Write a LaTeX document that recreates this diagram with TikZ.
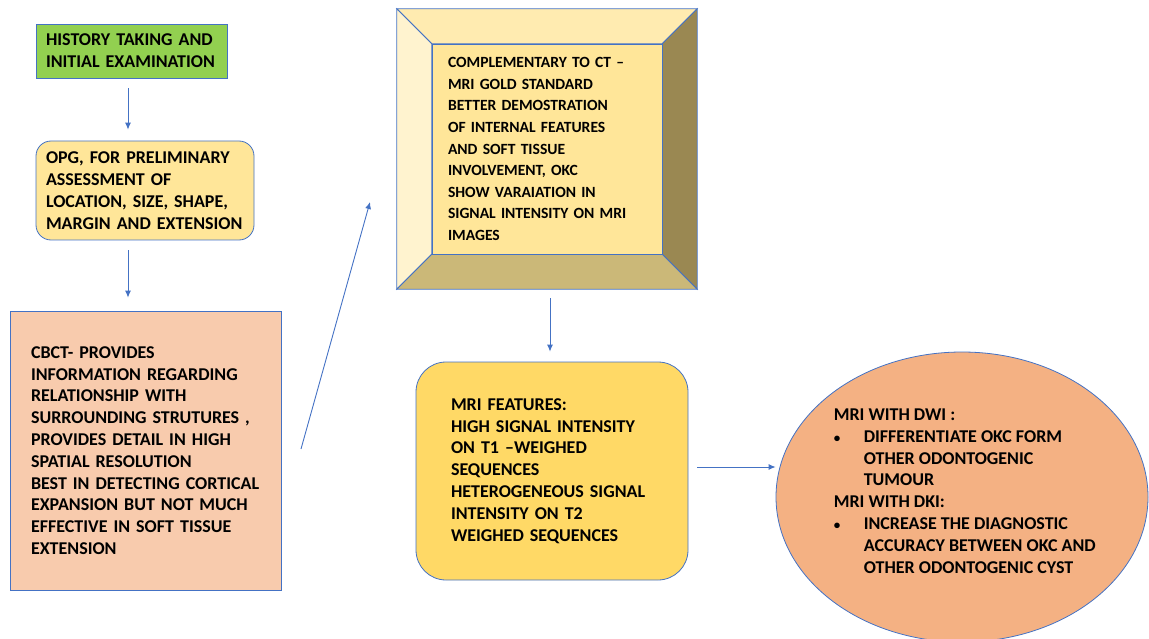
\documentclass[tikz,border=0pt]{standalone}
\usepackage{fontspec}
\setmainfont{Carlito}
\usepackage{tikz}
\usetikzlibrary{shapes,arrows,arrows.meta,calc}
\definecolor{lineblue}{HTML}{4472C4}
\definecolor{histgreen}{HTML}{92D050}
\definecolor{opgyellow}{HTML}{FFE699}
\definecolor{cbctpeach}{HTML}{F8CBAD}
\definecolor{mriyellow}{HTML}{FFD966}
\definecolor{dwiorange}{HTML}{F4B183}
\definecolor{bevtop}{HTML}{FFEBB0}
\definecolor{bevleft}{HTML}{FFF3CF}
\definecolor{bevright}{HTML}{9A8852}
\definecolor{bevbottom}{HTML}{CBB878}

\begin{document}
\begin{tikzpicture}[>={Latex[length=7pt,width=6pt]}, x=1pt, y=-1pt,
	stepbox/.style={draw=lineblue, line width=.8pt, align=left, inner ysep=0pt,
		font=\bfseries\fontsize{18}{21.8}\selectfont},
	flow/.style={->, draw=lineblue, line width=.9pt}]
		\useasboundingbox (0,0) rectangle (1149,639);
		\node (hist)  [stepbox, fill=histgreen, text width=171pt, inner xsep=10pt, minimum height=54pt] at (131.5,51) {HISTORY TAKING AND\\INITIAL EXAMINATION};
		\node (opg)   [stepbox, fill=opgyellow, rounded corners=15pt, text width=198pt, inner xsep=10pt, minimum height=99pt] at (145,190.5) {OPG, FOR PRELIMINARY\\ASSESSMENT OF\\LOCATION, SIZE, SHAPE,\\MARGIN AND EXTENSION};
		\node (cbct)  [stepbox, fill=cbctpeach, text width=229pt, inner xsep=21pt, minimum height=279pt] at (145.5,450.5) {CBCT- PROVIDES\\INFORMATION REGARDING\\RELATIONSHIP WITH\\SURROUNDING STRUTURES ,\\PROVIDES DETAIL IN HIGH\\SPATIAL RESOLUTION\\BEST IN DETECTING CORTICAL\\EXPANSION BUT NOT MUCH\\EFFECTIVE IN SOFT TISSUE\\EXTENSION};
		% bevelled frame round the MRI box
		\node (frame) [minimum width=300pt, minimum height=280pt, inner sep=0pt] at (547,149) {};
		\filldraw [draw=lineblue, line width=.8pt, fill=bevtop] (frame.north west) -- (frame.north east) -- ($(frame.north east)+(-35,35)$) -- ($(frame.north west)+(35,35)$) -- cycle;
		\filldraw [draw=lineblue, line width=.8pt, fill=bevleft] (frame.north west) -- ($(frame.north west)+(35,35)$) -- ($(frame.south west)+(35,-35)$) -- (frame.south west) -- cycle;
		\filldraw [draw=lineblue, line width=.8pt, fill=bevright] (frame.north east) -- (frame.south east) -- ($(frame.south east)+(-35,-35)$) -- ($(frame.north east)+(-35,35)$) -- cycle;
		\filldraw [draw=lineblue, line width=.8pt, fill=bevbottom] (frame.south west) -- (frame.south east) -- ($(frame.south east)+(-35,-35)$) -- ($(frame.south west)+(35,-35)$) -- cycle;
		\node (gold)  [stepbox, fill=opgyellow, text width=198pt, inner xsep=16pt, minimum height=210pt, font=\bfseries\fontsize{15.6}{21.6}\selectfont] at (frame.center) {COMPLEMENTARY TO CT --\\MRI GOLD STANDARD\\BETTER DEMOSTRATION\\OF INTERNAL FEATURES\\AND SOFT TISSUE\\INVOLVEMENT, OKC\\SHOW VARAIATION IN\\SIGNAL INTENSITY ON MRI\\IMAGES};
		\node (mrif)  [stepbox, fill=mriyellow, rounded corners=30pt, text width=202pt, inner xsep=35pt, minimum height=218pt] at (552,471) {MRI FEATURES:\\HIGH SIGNAL INTENSITY\\ON T1 --WEIGHED\\SEQUENCES\\HETEROGENEOUS SIGNAL\\INTENSITY ON T2\\WEIGHED SEQUENCES};
		\node (dwi)   [draw=lineblue, line width=.8pt, fill=dwiorange, ellipse, minimum width=372pt, minimum height=290pt, inner sep=0pt] at (962,497) {};
		\node (dwitext) [align=left, anchor=west, inner sep=0pt, font=\bfseries\fontsize{18}{21.8}\selectfont] at ($(dwi.west)+(58,-6)$) {MRI WITH DWI :\\\makebox[30pt][l]{\fontsize{13}{13}\selectfont\textbullet}DIFFERENTIATE OKC FORM\\\hspace*{30pt}OTHER ODONTOGENIC\\\hspace*{30pt}TUMOUR\\MRI WITH DKI:\\\makebox[30pt][l]{\fontsize{13}{13}\selectfont\textbullet}INCREASE THE DIAGNOSTIC\\\hspace*{30pt}ACCURACY BETWEEN OKC AND\\\hspace*{30pt}OTHER ODONTOGENIC CYST};
		\coordinate (upfrom) at (301,449);
		\coordinate (upto)   at (370,202);
		\draw [flow] ($(hist.south)+(-3.5,10)$) -- ($(hist.south |- opg.north)+(-3.5,-11)$);
		\draw [flow] ($(hist.south |- opg.south)+(-3.5,10)$) -- ($(hist.south |- cbct.north)+(-3.5,-13)$);
		\draw [flow] (upfrom) -- (upto);
		\draw [flow] ($(frame.south)+(3,9)$) -- ($(frame.south |- mrif.north)+(3,-10)$);
		\draw [flow] ($(mrif.east)+(9,-4)$) -- ($(mrif.east -| dwi.west)+(0,-4)$);
	\end{tikzpicture}
\end{document}
